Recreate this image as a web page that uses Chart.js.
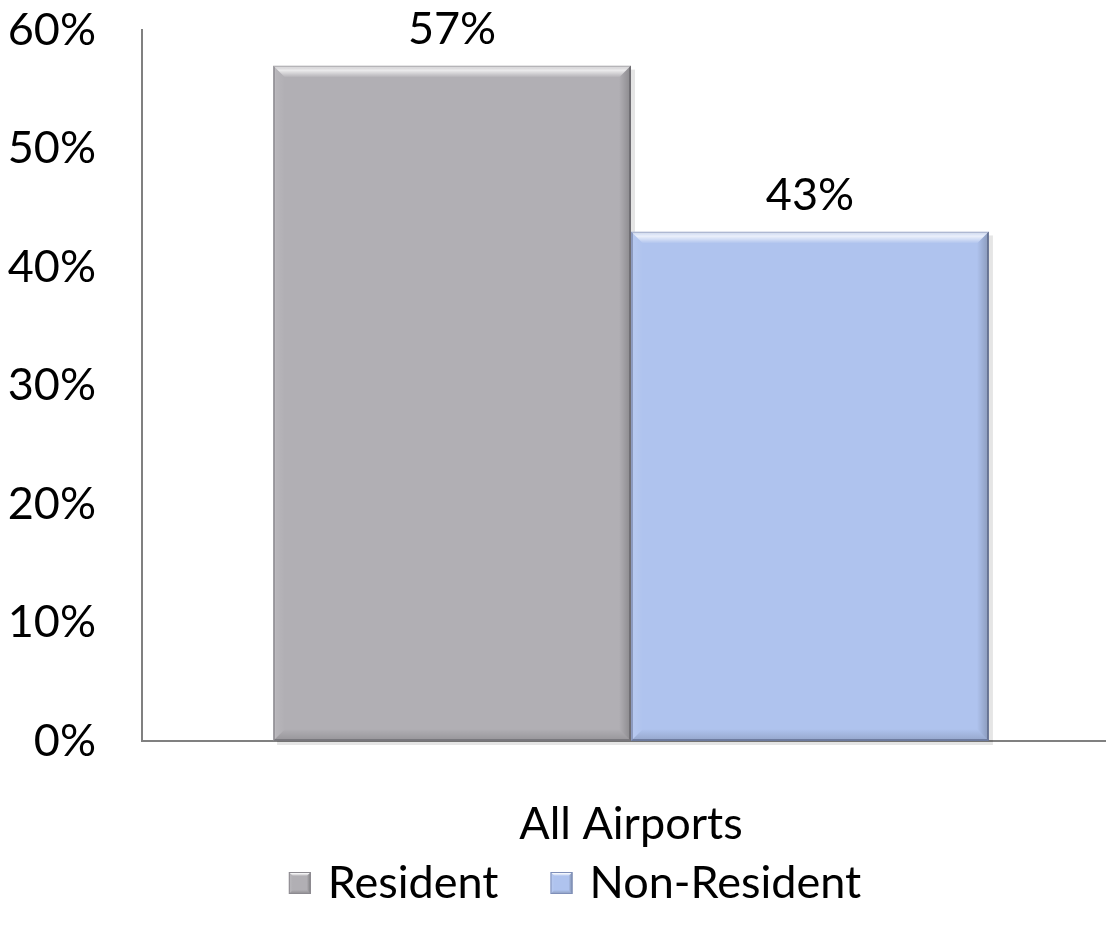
<!DOCTYPE html>
<html>
<head>
<meta charset="utf-8">
<script src="https://cdn.jsdelivr.net/npm/chart.js@4.4.0/dist/chart.umd.min.js"></script>
<style>
  html, body { margin: 0; padding: 0; background: #fff; overflow: hidden; }
  #wrap { width: 1120px; height: 929px; position: relative; }
</style>
</head>
<body>
<div id="wrap"><canvas id="c" width="1120" height="929"></canvas></div>
<script>
const categories = ['All Airports'];
const seriesNames = ['Resident', 'Non-Resident'];
const residentValues = [57];
const nonResidentValues = [43];
const yMin = 0, yMax = 60, yStep = 10;

const FONT = 'Lato, "Open Sans", sans-serif';
const FS = 45;

function bevel(ctx, l, t, r, b, e, light, dark) {
  let g = ctx.createLinearGradient(0, t, 0, t + e);
  g.addColorStop(0, 'rgba(255,255,255,' + light * 0.35 + ')');
  g.addColorStop(0.4, 'rgba(255,255,255,' + light + ')');
  g.addColorStop(1, 'rgba(255,255,255,0)');
  ctx.fillStyle = g;
  ctx.beginPath();
  ctx.moveTo(l, t); ctx.lineTo(r, t); ctx.lineTo(r - e, t + e); ctx.lineTo(l + e, t + e); ctx.closePath();
  ctx.fill();
  g = ctx.createLinearGradient(l, 0, l + e, 0);
  g.addColorStop(0, 'rgba(255,255,255,' + light * 0.15 + ')');
  g.addColorStop(1, 'rgba(255,255,255,0)');
  ctx.fillStyle = g;
  ctx.beginPath();
  ctx.moveTo(l, t); ctx.lineTo(l + e, t + e); ctx.lineTo(l + e, b - e); ctx.lineTo(l, b); ctx.closePath();
  ctx.fill();
  g = ctx.createLinearGradient(r - e, 0, r, 0);
  g.addColorStop(0, 'rgba(0,0,0,0)');
  g.addColorStop(1, 'rgba(0,0,0,' + dark + ')');
  ctx.fillStyle = g;
  ctx.beginPath();
  ctx.moveTo(r, t); ctx.lineTo(r, b); ctx.lineTo(r - e, b - e); ctx.lineTo(r - e, t + e); ctx.closePath();
  ctx.fill();
  g = ctx.createLinearGradient(0, b - e, 0, b);
  g.addColorStop(0, 'rgba(0,0,0,0)');
  g.addColorStop(1, 'rgba(0,0,0,' + dark * 0.7 + ')');
  ctx.fillStyle = g;
  ctx.beginPath();
  ctx.moveTo(l, b); ctx.lineTo(r, b); ctx.lineTo(r - e, b - e); ctx.lineTo(l + e, b - e); ctx.closePath();
  ctx.fill();
}

const bevelPlugin = {
  id: 'bevel',
  beforeDatasetsDraw(chart) {
    const ctx = chart.ctx;
    chart.data.datasets.forEach((ds, i) => {
      const meta = chart.getDatasetMeta(i);
      meta.data.forEach((bar) => {
        const p = bar.getProps(['x', 'y', 'base', 'width'], true);
        const l = p.x - p.width / 2;
        ctx.save();
        ctx.fillStyle = 'rgba(0,0,0,0.10)';
        ctx.fillRect(l + 4, p.y + 4, p.width, p.base - p.y);
        ctx.restore();
      });
    });
  },
  afterDatasetsDraw(chart) {
    const ctx = chart.ctx;
    chart.data.datasets.forEach((ds, i) => {
      const meta = chart.getDatasetMeta(i);
      meta.data.forEach((bar, j) => {
        const p = bar.getProps(['x', 'y', 'base', 'width'], true);
        const l = p.x - p.width / 2, r = p.x + p.width / 2;
        ctx.save();
        bevel(ctx, l, p.y, r, p.base, 12, 0.75, 0.22);
        ctx.fillStyle = '#000';
        ctx.font = FS + 'px ' + FONT;
        ctx.textAlign = 'center';
        ctx.textBaseline = 'middle';
        ctx.fillText(ds.data[j] + '%', p.x, p.y - 36);
        ctx.restore();
      });
    });
  },
  afterDraw(chart) {
    // legend
    const ctx = chart.ctx;
    const box = 22, gapText = 17, gapItem = 52;
    ctx.save();
    ctx.font = FS + 'px ' + FONT;
    const items = chart.data.datasets.map(ds => ({ ds, w: ctx.measureText(ds.label).width }));
    const total = items.reduce((s, it) => s + box + gapText + it.w, 0) + gapItem * (items.length - 1);
    const cx = 575, cy = 883;
    let x = cx - total / 2;
    items.forEach(it => {
      const t = cy - box / 2;
      ctx.fillStyle = it.ds.backgroundColor;
      ctx.fillRect(x, t, box, box);
      bevel(ctx, x, t, x + box, t + box, 4, 0.9, 0.3);
      ctx.strokeStyle = it.ds.borderColor;
      ctx.lineWidth = 1;
      ctx.strokeRect(x + 0.5, t + 0.5, box - 1, box - 1);
      ctx.fillStyle = '#000';
      ctx.textAlign = 'left';
      ctx.textBaseline = 'middle';
      ctx.fillText(it.ds.label, x + box + gapText, cy);
      x += box + gapText + it.w + gapItem;
    });
    ctx.restore();
  }
};

new Chart(document.getElementById('c'), {
  type: 'bar',
  data: {
    labels: categories,
    datasets: [
      { label: seriesNames[0], data: residentValues, backgroundColor: '#b1afb4', borderColor: '#8c8a90', borderWidth: 2, borderSkipped: false },
      { label: seriesNames[1], data: nonResidentValues, backgroundColor: '#afc3ee', borderColor: '#7f8fb8', borderWidth: 2, borderSkipped: false }
    ]
  },
  options: {
    responsive: false,
    animation: false,
    devicePixelRatio: 1,
    layout: { padding: { top: 30, left: 0, right: 0, bottom: 0 } },
    datasets: { bar: { categoryPercentage: 0.732, barPercentage: 1.0 } },
    scales: {
      x: {
        grid: { display: false, drawTicks: false },
        border: { display: true, color: '#808080', width: 2 },
        ticks: { color: '#000', font: { family: FONT, size: FS }, padding: 56 },
        afterFit(s) { s.height = 188; s.paddingLeft = 0; s.paddingRight = 0; }
      },
      y: {
        min: yMin, max: yMax,
        grid: { display: false, drawTicks: false },
        border: { display: true, color: '#808080', width: 2 },
        ticks: { stepSize: yStep, color: '#000', font: { family: FONT, size: FS }, padding: 46, callback: v => v + '%' },
        afterFit(s) { s.width = 142; s.paddingTop = 0; s.paddingBottom = 0; }
      }
    },
    plugins: {
      legend: { display: false },
      tooltip: { enabled: false }
    }
  },
  plugins: [bevelPlugin]
});
</script>
</body>
</html>
